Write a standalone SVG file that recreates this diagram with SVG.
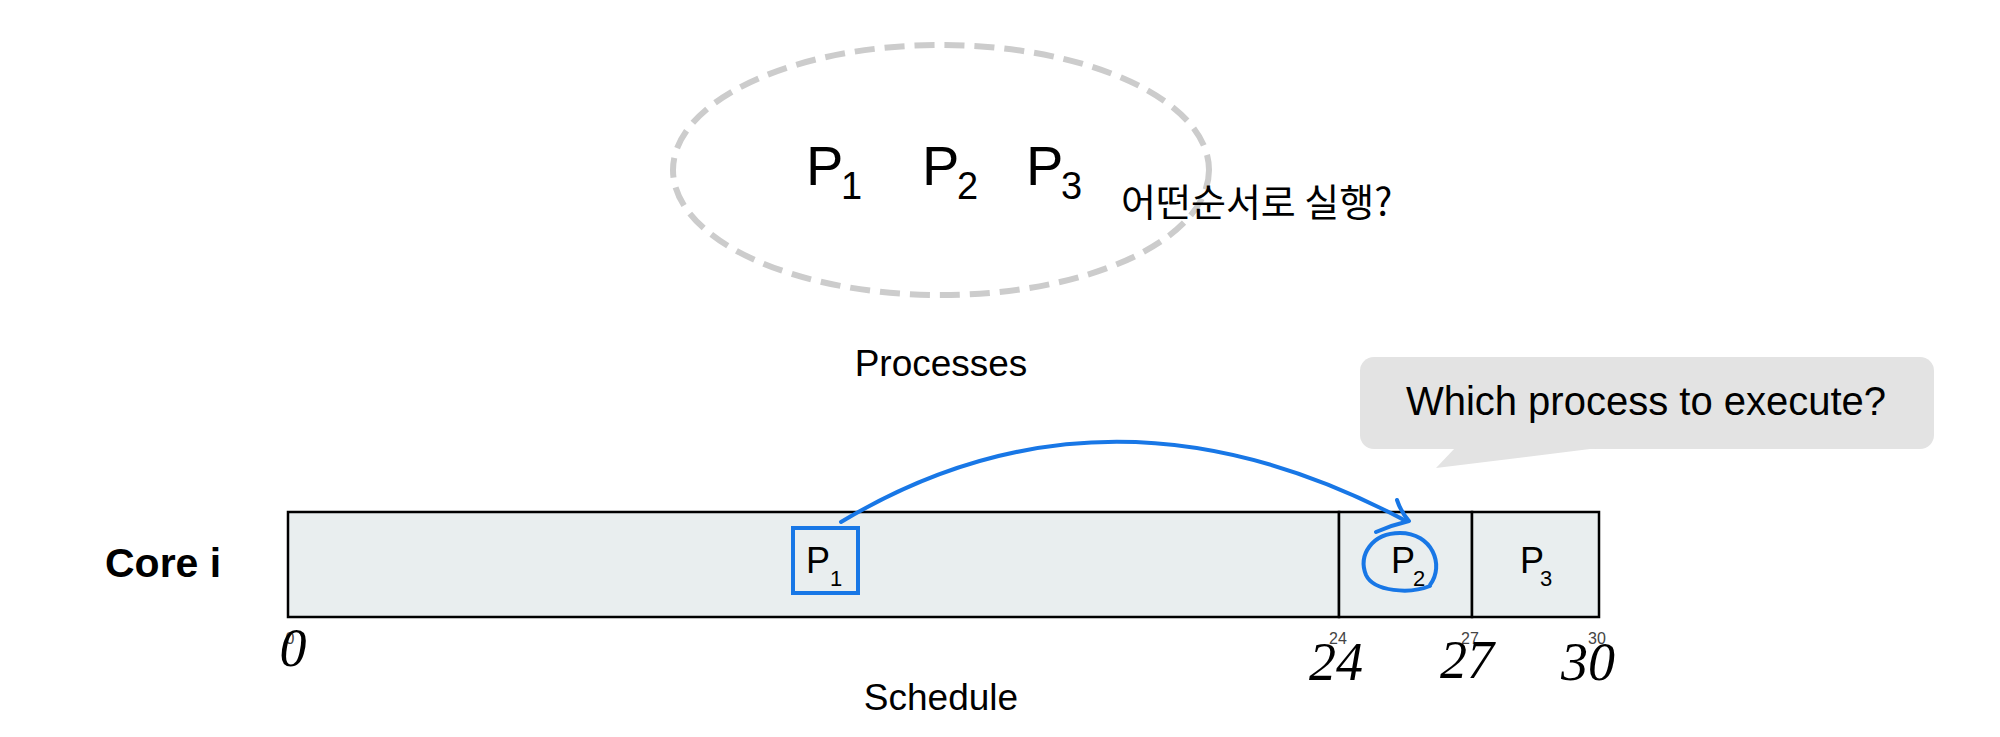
<svg xmlns="http://www.w3.org/2000/svg" width="2000" height="737" viewBox="0 0 2000 737">
<style>
.t{font-family:"Liberation Sans","Noto Sans",sans-serif;fill:#000}
.p{font-size:56px}
.ps{font-size:38px}
.bp{font-size:36px}
.bs{font-size:22px}
.lab{font-size:37px}
.hand{font-family:"Liberation Serif",serif;font-style:italic;font-size:54px;fill:#000}
.tick{font-size:16px;fill:#444}
.blue{fill:none;stroke:#1877e6;stroke-width:4;stroke-linecap:round;stroke-linejoin:round}
.slot{fill:#e9eeef;stroke:#000;stroke-width:2.5}
</style>
<rect width="2000" height="737" fill="#fff"/>
<g id="processes">
<ellipse cx="941" cy="170" rx="268" ry="125" fill="none" stroke="#cccccc" stroke-width="6" stroke-dasharray="20 10"/>
<text class="t p" x="806" y="185">P</text><text class="t ps" x="841" y="199">1</text>
<text class="t p" x="922" y="185">P</text><text class="t ps" x="957" y="199">2</text>
<text class="t p" x="1026" y="185">P</text><text class="t ps" x="1061" y="199">3</text>
<text class="t lab" x="941" y="376" text-anchor="middle">Processes</text>
</g>
<g id="korean-note">
<text x="1121" y="216" font-family="'Noto Sans CJK KR',sans-serif" font-size="38" fill="#000">어떤순서로 실행?</text>
</g>
<g id="callout">
<rect x="1360" y="357" width="574" height="92" rx="14" fill="#e3e3e3"/>
<polygon points="1455,448 1436,468 1598,448" fill="#e3e3e3"/>
<text class="t" x="1646" y="415" font-size="40" text-anchor="middle">Which process to execute?</text>
</g>
<g id="core-label">
<text class="t" x="105" y="577" font-size="41" font-weight="bold">Core i</text>
</g>
<g id="schedule">
<rect class="slot" x="288" y="512" width="1051" height="105"/>
<rect class="slot" x="1339" y="512" width="133" height="105"/>
<rect class="slot" x="1472" y="512" width="127" height="105"/>
<rect x="793" y="528" width="65" height="65" fill="none" stroke="#1877e6" stroke-width="4"/>
<text class="t bp" x="806" y="573">P</text><text class="t bs" x="830" y="586">1</text>
<text class="t bp" x="1391" y="573">P</text><text class="t bs" x="1413" y="586">2</text>
<text class="t bp" x="1520" y="573">P</text><text class="t bs" x="1540" y="586">3</text>
<text class="t lab" x="941" y="710" text-anchor="middle">Schedule</text>
</g>
<g id="ticks">
<text class="t tick" x="290" y="644" text-anchor="middle">0</text>
<text class="t tick" x="1338" y="644" text-anchor="middle">24</text>
<text class="t tick" x="1470" y="644" text-anchor="middle">27</text>
<text class="t tick" x="1597" y="644" text-anchor="middle">30</text>
<text class="hand" x="293" y="666" text-anchor="middle">0</text>
<text class="hand" x="1336" y="680" text-anchor="middle">24</text>
<text class="hand" x="1467" y="678" text-anchor="middle">27</text>
<text class="hand" x="1588" y="680" text-anchor="middle">30</text>
</g>
<g id="connectors">
<path class="blue" d="M841,522 Q1108,362 1406,521"/>
<path class="blue" d="M1397,500 Q1401,512 1409,521 Q1392,525 1376,532"/>
<path class="blue" d="M1430,585 C1445,565 1432,533 1400,533 C1372,533 1358,555 1366,575 C1374,592 1410,594 1430,586"/>
</g>
</svg>
